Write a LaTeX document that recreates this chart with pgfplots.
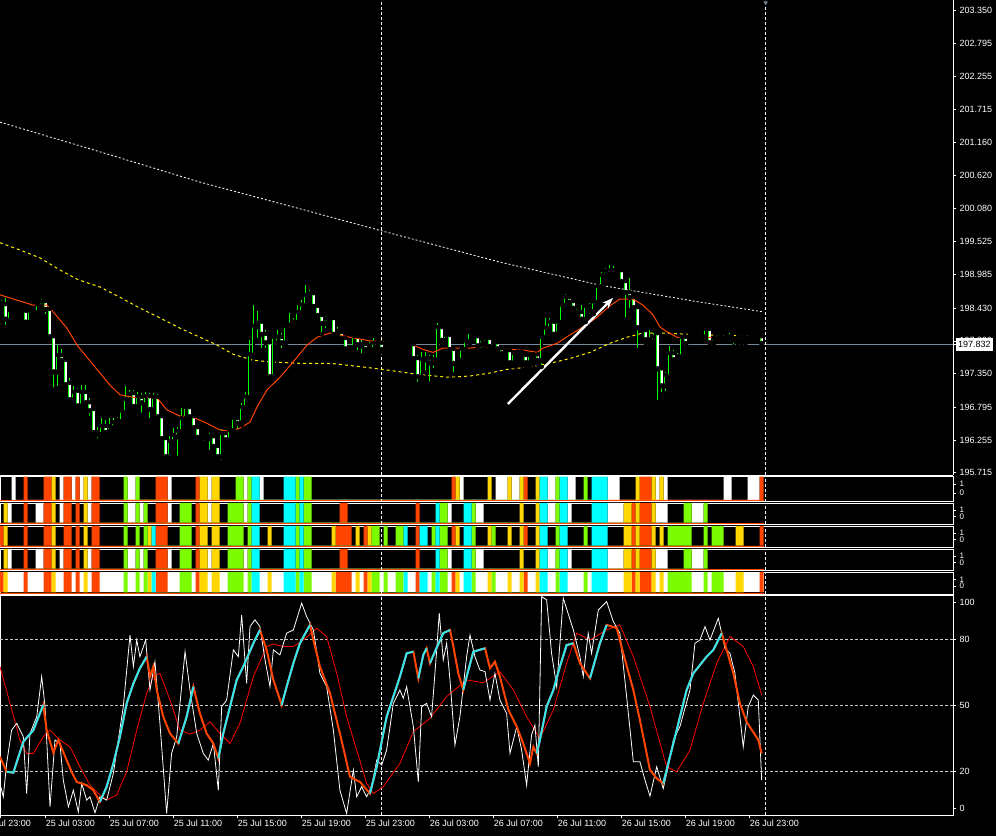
\documentclass[border=0pt]{standalone}
\usepackage{fontspec}
\setmainfont{Liberation Sans}
\usepackage{pgfplots}
\usepackage{pgfplotstable}
\pgfplotsset{compat=1.18}
\usetikzlibrary{arrows.meta}

\definecolor{mtorange}{RGB}{255,69,0}
\definecolor{mtgold}{RGB}{255,215,0}
\definecolor{mtlawn}{RGB}{124,252,0}
\definecolor{mtaqua}{RGB}{0,255,255}
\definecolor{mtlime}{RGB}{0,255,0}
\definecolor{mtsig}{RGB}{50,230,240}
\definecolor{bidgray}{RGB}{119,136,153}
\definecolor{levelgray}{RGB}{200,200,200}

% M15 candles, t = hours since 25 Jul 00:00
\pgfplotstableread{
t O H L C
0.25 198.50 198.57 198.45 198.48
0.50 198.48 198.60 198.12 198.24
0.75 198.22 198.42 198.17 198.38
1.00 198.38 198.45 198.35 198.40
1.25 198.40 198.47 198.37 198.42
1.50 198.40 198.43 198.30 198.35
1.75 198.37 198.40 198.15 198.19
2.00 198.19 198.40 198.15 198.37
2.25 198.37 198.42 198.30 198.35
2.50 198.35 198.52 198.30 198.47
2.75 198.45 198.58 198.38 198.52
3.00 198.53 198.58 198.30 198.40
3.25 198.40 198.43 197.92 197.95
3.50 197.95 197.99 197.09 197.37
3.75 197.37 197.82 197.11 197.64
4.00 197.64 197.75 197.51 197.56
4.25 197.56 197.57 197.13 197.16
4.50 197.18 197.27 196.85 196.91
4.75 196.91 197.14 196.88 197.03
5.00 197.05 197.11 196.78 196.81
5.25 196.81 197.16 196.80 197.03
5.50 197.03 197.16 196.85 196.86
5.75 196.86 196.95 196.62 196.73
6.00 196.75 196.76 196.35 196.37
6.25 196.37 196.47 196.25 196.34
6.50 196.34 196.62 196.30 196.47
6.75 196.47 196.58 196.34 196.37
7.00 196.39 196.62 196.34 196.47
7.25 196.45 196.62 196.42 196.53
7.50 196.53 196.63 196.52 196.57
7.75 196.55 196.76 196.52 196.72
8.00 196.70 197.14 196.67 196.91
8.25 196.91 197.08 196.86 197.00
8.50 197.01 197.08 196.75 196.80
8.75 196.80 197.05 196.75 196.96
9.00 196.95 197.03 196.67 196.86
9.25 196.83 197.05 196.78 196.96
9.50 196.96 197.03 196.58 196.75
9.75 196.75 197.03 196.72 196.95
10.00 196.95 197.01 196.58 196.63
10.25 196.63 196.67 196.20 196.27
10.50 196.27 196.30 195.96 195.97
10.75 195.97 196.32 195.94 196.22
11.00 196.22 196.45 196.19 196.32
11.25 196.30 196.47 195.96 196.39
11.50 196.39 196.78 196.35 196.60
11.75 196.60 196.83 196.57 196.78
12.00 196.78 196.81 196.58 196.63
12.25 196.63 196.67 196.42 196.45
12.50 196.45 196.48 196.25 196.29
12.75 196.29 196.34 196.20 196.24
13.00 196.20 196.32 196.14 196.27
13.25 196.27 196.37 196.06 196.30
13.50 196.30 196.35 196.11 196.14
13.75 196.14 196.17 195.92 195.97
14.00 195.97 196.43 195.89 196.35
14.25 196.35 196.39 196.22 196.25
14.50 196.25 196.45 196.22 196.40
14.75 196.40 196.62 196.37 196.60
15.00 196.60 196.63 196.39 196.52
15.25 196.53 196.86 196.50 196.78
15.50 196.78 197.05 196.75 196.95
15.75 196.95 197.90 196.91 197.65
16.00 197.65 198.48 197.62 198.12
16.25 198.12 198.38 197.90 198.17
16.50 198.19 198.24 197.74 197.99
16.75 197.99 198.07 197.74 197.85
17.00 197.85 197.90 197.27 197.29
17.25 197.29 197.99 197.27 197.94
17.50 197.85 198.07 197.82 197.94
17.75 197.94 198.02 197.74 197.85
18.00 197.85 198.15 197.82 198.12
18.25 198.12 198.35 198.07 198.14
18.50 198.14 198.27 198.10 198.19
18.75 198.19 198.48 198.14 198.35
19.00 198.35 198.57 198.30 198.47
19.25 198.47 198.81 198.43 198.63
19.50 198.63 198.73 198.57 198.66
19.75 198.66 198.70 198.43 198.45
20.00 198.45 198.48 198.27 198.30
20.25 198.30 198.35 198.00 198.17
20.50 198.17 198.30 198.07 198.24
20.75 198.24 198.30 198.17 198.25
21.00 198.25 198.30 197.94 197.99
21.25 197.99 198.12 197.95 198.04
21.50 198.02 198.07 197.87 197.92
21.75 197.92 197.95 197.74 197.75
22.00 197.75 197.84 197.74 197.77
22.25 197.77 197.99 197.74 197.95
22.50 197.95 198.00 197.70 197.82
22.75 197.82 197.90 197.65 197.80
23.00 197.82 197.87 197.67 197.74
23.25 197.75 197.87 197.74 197.80
23.50 197.74 197.94 197.69 197.84
23.75 197.84 197.90 197.79 197.85
24.00 197.84 197.90 197.70 197.74
24.25 197.82 197.90 197.80 197.85
24.50 197.85 197.89 197.80 197.82
24.75 197.84 197.90 197.80 197.85
25.00 197.85 197.89 197.79 197.80
25.25 197.85 197.89 197.84 197.84
25.50 197.85 197.90 197.80 197.84
25.75 197.84 197.89 197.77 197.80
26.00 197.82 197.84 197.57 197.59
26.25 197.59 197.65 197.18 197.29
26.50 197.29 197.70 197.24 197.57
26.75 197.57 197.70 197.37 197.59
27.00 197.59 197.65 197.19 197.52
27.25 197.52 197.65 197.41 197.57
27.50 197.57 198.19 197.54 198.10
27.75 198.10 198.15 197.85 197.89
28.00 197.89 198.00 197.84 197.97
28.25 197.97 198.02 197.70 197.74
28.50 197.74 197.77 197.34 197.51
28.75 197.51 197.60 197.46 197.56
29.00 197.56 197.77 197.52 197.74
29.25 197.74 197.92 197.70 197.87
29.50 197.87 198.04 197.82 198.02
29.75 198.00 198.02 197.92 197.95
30.00 197.95 197.97 197.77 197.80
30.25 197.82 197.95 197.74 197.90
30.50 197.85 197.97 197.82 197.92
30.75 197.92 197.97 197.75 197.79
31.00 197.80 197.90 197.75 197.85
31.25 197.85 197.89 197.72 197.75
31.50 197.75 197.80 197.62 197.67
31.75 197.69 197.77 197.64 197.72
32.00 197.72 197.77 197.51 197.52
32.25 197.52 197.70 197.47 197.67
32.50 197.67 197.75 197.62 197.70
32.75 197.70 197.74 197.60 197.64
33.00 197.64 197.67 197.46 197.52
33.25 197.52 197.67 197.47 197.64
33.50 197.64 197.70 197.60 197.65
33.75 197.65 197.70 197.51 197.56
34.00 197.56 197.95 197.46 197.94
34.25 197.94 198.27 197.89 198.09
34.50 198.09 198.27 198.07 198.19
34.75 198.19 198.24 197.92 197.99
35.00 198.00 198.24 197.97 198.19
35.25 198.19 198.52 198.15 198.47
35.50 198.47 198.66 198.43 198.60
35.75 198.60 198.65 198.48 198.52
36.00 198.53 198.57 198.38 198.42
36.25 198.42 198.45 198.32 198.35
36.50 198.35 198.48 198.20 198.24
36.75 198.24 198.48 198.20 198.45
37.00 198.38 198.52 198.30 198.45
37.25 198.37 198.55 198.33 198.52
37.50 198.52 198.81 198.48 198.78
37.75 198.78 199.03 198.75 198.96
38.00 198.96 199.09 198.93 199.03
38.25 199.03 199.14 198.96 199.04
38.50 199.04 199.13 198.98 199.01
38.75 199.01 199.09 198.96 199.04
39.00 199.04 199.06 198.83 198.86
39.25 198.86 198.91 198.24 198.68
39.50 198.68 198.93 198.40 198.60
39.75 198.60 198.63 198.38 198.43
40.00 198.43 198.47 197.74 198.10
40.25 198.10 198.15 197.97 198.05
40.50 198.05 198.10 197.85 197.90
40.75 197.90 198.07 197.82 197.87
41.00 197.87 198.02 197.84 197.94
41.25 198.00 198.02 196.88 197.42
41.50 197.42 197.46 197.01 197.14
41.75 197.14 197.37 197.03 197.31
42.00 197.29 197.80 197.24 197.67
42.25 197.67 197.74 197.51 197.57
42.50 197.57 197.69 197.52 197.62
42.75 197.62 197.97 197.59 197.94
43.00 197.94 197.97 197.82 197.84
43.25 197.92 198.00 197.87 197.97
43.50 197.97 198.02 197.90 197.95
43.75 197.95 198.04 197.90 198.00
44.00 198.00 198.02 197.92 197.97
44.25 197.95 198.09 197.90 198.07
44.50 198.07 198.10 197.80 197.85
44.75 197.85 197.95 197.82 197.92
45.00 197.92 198.00 197.89 197.99
45.25 197.99 198.00 197.90 197.94
45.50 197.94 197.99 197.89 197.95
45.75 197.95 198.02 197.90 197.92
46.00 197.92 197.97 197.80 197.89
46.25 197.89 197.99 197.85 197.94
46.50 197.94 197.95 197.85 197.89
46.75 197.89 197.97 197.85 197.94
47.00 197.94 197.99 197.90 197.95
47.25 197.95 198.00 197.90 197.94
47.50 197.94 198.00 197.92 197.97
47.75 197.95 197.97 197.82 197.84
}\candles

% moving averages on the price chart
\pgfplotstableread{
t p
0.14 198.65
2.21 198.48
3.08 198.48
3.46 198.37
4.33 198.10
4.96 197.82
5.58 197.62
6.39 197.36
7.02 197.16
7.64 197.00
8.46 196.96
9.96 196.95
10.58 196.75
11.39 196.65
12.21 196.63
13.08 196.53
13.89 196.42
14.52 196.40
15.14 196.45
15.77 196.55
16.21 196.80
16.83 197.08
17.64 197.29
18.46 197.54
19.33 197.82
19.96 197.95
20.77 198.02
22.02 197.95
23.27 197.89
24.96 197.87
25.96 197.82
26.58 197.75
27.21 197.70
27.83 197.77
29.52 197.77
30.33 197.80
32.02 197.75
32.83 197.74
33.71 197.70
34.08 197.77
34.96 197.85
35.77 197.99
36.58 198.12
37.46 198.28
38.27 198.47
38.89 198.58
39.71 198.58
40.33 198.48
40.96 198.32
41.39 198.12
41.83 198.04
42.46 197.95
43.08 197.94
44.33 197.95
45.96 197.94
47.77 197.94
}\ema

\pgfplotstableread{
t p
0.14 199.51
1.39 199.39
2.64 199.26
3.89 199.06
5.02 198.90
6.39 198.78
7.64 198.61
8.89 198.43
10.14 198.27
11.39 198.10
12.64 197.95
13.71 197.82
14.71 197.67
15.96 197.57
17.21 197.54
18.89 197.52
20.77 197.52
22.83 197.46
24.33 197.41
26.21 197.34
28.08 197.29
29.52 197.31
30.77 197.36
31.83 197.42
33.27 197.46
34.52 197.52
35.77 197.60
37.02 197.70
38.27 197.85
39.33 197.95
40.33 198.02
41.39 198.02
43.89 197.99
47.77 197.97
}\mayellow

\pgfplotstableread{
t p
0.14 201.50
6.39 201.01
12.64 200.51
18.89 200.07
24.08 199.70
31.39 199.19
37.64 198.81
43.89 198.53
47.83 198.37
}\mawhite

% colour strips: interval starts (1) and ends (0)
\pgfplotstableread[row sep=\\]{x y\\0.875 1\\1.125 0\\3.875 1\\4.125 0\\4.625 1\\4.875 0\\5.125 1\\5.375 0\\5.625 1\\5.875 0\\8.125 1\\8.625 0\\10.625 1\\10.875 0\\13.125 1\\13.375 0\\15.375 1\\15.625 0\\16.375 1\\16.625 0\\28.875 1\\29.125 0\\31.125 1\\31.875 0\\32.125 1\\32.625 0\\34.375 1\\34.875 0\\35.625 1\\36.125 0\\38.125 1\\38.875 0\\41.125 1\\41.375 0\\41.625 1\\41.875 0\\45.375 1\\45.875 0\\46.875 1\\47.625 0\\}\sOneW
\pgfplotstableread[row sep=\\]{x y\\1.625 1\\1.875 0\\2.875 1\\3.375 0\\4.125 1\\4.625 0\\4.875 1\\5.125 0\\5.875 1\\6.375 0\\9.875 1\\10.625 0\\12.375 1\\12.625 0\\28.375 1\\28.625 0\\32.875 1\\33.125 0\\40.125 1\\40.875 0\\47.625 1\\47.875 0\\}\sOneO
\pgfplotstableread[row sep=\\]{x y\\3.375 1\\3.625 0\\5.375 1\\5.625 0\\12.625 1\\13.125 0\\13.375 1\\13.875 0\\28.625 1\\28.875 0\\30.625 1\\30.875 0\\31.875 1\\32.125 0\\32.625 1\\32.875 0\\33.625 1\\33.875 0\\39.875 1\\40.125 0\\40.875 1\\41.125 0\\41.375 1\\41.625 0\\}\sOneY
\pgfplotstableread[row sep=\\]{x y\\7.875 1\\8.125 0\\8.625 1\\8.875 0\\14.875 1\\15.375 0\\15.625 1\\15.875 0\\18.625 1\\18.875 0\\19.125 1\\19.625 0\\34.875 1\\35.125 0\\36.625 1\\36.875 0\\}\sOneG
\pgfplotstableread[row sep=\\]{x y\\15.875 1\\16.375 0\\17.875 1\\18.625 0\\18.875 1\\19.125 0\\33.875 1\\34.375 0\\35.125 1\\35.625 0\\37.125 1\\38.125 0\\}\sOneC

\pgfplotstableread[row sep=\\]{x y\\0.625 1\\0.875 0\\2.375 1\\2.875 0\\3.875 1\\4.125 0\\5.625 1\\5.875 0\\8.125 1\\8.625 0\\8.875 1\\9.125 0\\10.625 1\\10.875 0\\13.125 1\\13.375 0\\15.375 1\\15.625 0\\28.125 1\\28.375 0\\29.875 1\\30.375 0\\34.375 1\\34.875 0\\35.625 1\\35.875 0\\38.125 1\\39.125 0\\41.125 1\\41.875 0\\43.375 1\\44.125 0\\}\sTwoW
\pgfplotstableread[row sep=\\]{x y\\1.625 1\\1.875 0\\2.875 1\\3.375 0\\4.125 1\\4.625 0\\4.875 1\\5.125 0\\5.875 1\\6.375 0\\9.875 1\\10.625 0\\12.375 1\\12.625 0\\21.375 1\\21.875 0\\26.125 1\\26.375 0\\39.625 1\\39.875 0\\40.125 1\\40.875 0\\}\sTwoO
\pgfplotstableread[row sep=\\]{x y\\0.375 1\\0.625 0\\3.375 1\\3.625 0\\5.375 1\\5.625 0\\12.625 1\\13.125 0\\13.375 1\\13.875 0\\32.625 1\\32.875 0\\33.625 1\\33.875 0\\39.125 1\\39.625 0\\39.875 1\\40.125 0\\40.875 1\\41.125 0\\}\sTwoY
\pgfplotstableread[row sep=\\]{x y\\7.875 1\\8.125 0\\8.625 1\\8.875 0\\9.125 1\\9.375 0\\11.375 1\\12.125 0\\14.375 1\\15.375 0\\15.625 1\\15.875 0\\18.625 1\\18.875 0\\19.125 1\\19.625 0\\27.625 1\\28.125 0\\29.625 1\\29.875 0\\34.875 1\\35.125 0\\42.875 1\\43.375 0\\44.125 1\\44.375 0\\}\sTwoG
\pgfplotstableread[row sep=\\]{x y\\15.875 1\\16.375 0\\17.875 1\\18.625 0\\18.875 1\\19.125 0\\27.375 1\\27.625 0\\29.125 1\\29.625 0\\33.875 1\\34.375 0\\35.125 1\\35.625 0\\37.125 1\\38.125 0\\}\sTwoC

\pgfplotstableread[row sep=\\]{x y\\0.125 1\\0.375 0\\1.625 1\\1.875 0\\2.875 1\\3.375 0\\4.125 1\\4.625 0\\4.875 1\\5.125 0\\5.875 1\\6.375 0\\9.875 1\\10.625 0\\12.375 1\\12.625 0\\21.125 1\\22.125 0\\22.875 1\\23.125 0\\26.125 1\\26.375 0\\28.375 1\\28.625 0\\32.875 1\\33.125 0\\39.625 1\\39.875 0\\40.125 1\\40.875 0\\47.625 1\\47.875 0\\}\sThrO
\pgfplotstableread[row sep=\\]{x y\\0.375 1\\0.625 0\\3.375 1\\3.625 0\\5.375 1\\5.625 0\\9.375 1\\9.625 0\\12.625 1\\13.125 0\\13.375 1\\13.875 0\\16.875 1\\17.125 0\\20.875 1\\21.125 0\\22.375 1\\22.625 0\\23.125 1\\23.375 0\\28.625 1\\28.875 0\\30.625 1\\30.875 0\\31.875 1\\32.125 0\\32.625 1\\32.875 0\\33.625 1\\33.875 0\\39.125 1\\39.625 0\\39.875 1\\40.125 0\\40.875 1\\41.125 0\\41.375 1\\41.625 0\\46.125 1\\46.625 0\\}\sThrY
\pgfplotstableread[row sep=\\]{x y\\7.875 1\\8.125 0\\8.625 1\\8.875 0\\9.125 1\\9.375 0\\11.375 1\\12.125 0\\14.375 1\\15.375 0\\15.625 1\\15.875 0\\18.625 1\\18.875 0\\19.125 1\\19.625 0\\23.375 1\\23.875 0\\24.125 1\\24.375 0\\24.875 1\\25.375 0\\27.125 1\\27.375 0\\27.625 1\\28.125 0\\29.625 1\\29.875 0\\30.875 1\\31.125 0\\34.875 1\\35.125 0\\36.625 1\\36.875 0\\41.875 1\\43.375 0\\44.125 1\\44.375 0\\44.625 1\\45.375 0\\}\sThrG
\pgfplotstableread[row sep=\\]{x y\\9.625 1\\9.875 0\\15.875 1\\16.375 0\\17.875 1\\18.625 0\\18.875 1\\19.125 0\\25.375 1\\25.625 0\\26.375 1\\26.875 0\\27.375 1\\27.625 0\\29.125 1\\29.625 0\\33.875 1\\34.375 0\\35.125 1\\35.625 0\\37.125 1\\38.125 0\\}\sThrC
\pgfplotstableread[row sep=\\]{x y\\0.125 1\\47.875 0\\}\sFiveW

% stochastic oscillator
\pgfplotstableread{
t v
0.14 14.4
0.35 8.3
0.56 23.5
0.87 38.7
1.19 41.8
1.60 35.7
1.81 9.8
2.02 37.2
2.44 44.8
2.75 63.1
2.96 49.4
3.27 3.7
3.58 34.2
3.89 32.6
4.10 15.9
4.42 3.7
4.73 11.3
5.04 1.4
5.25 14.4
5.56 6.8
5.77 8.3
6.08 1.0
6.39 8.3
6.81 6.8
7.23 19.0
7.85 49.4
8.27 82.1
8.48 67.7
8.69 79.8
8.89 72.2
9.25 79.8
9.52 57.0
9.83 69.9
10.14 41.8
10.56 0.7
10.87 28.1
11.19 35.7
11.71 74.5
12.02 57.0
12.44 37.2
12.85 28.1
13.16 25.0
13.48 32.6
13.79 11.3
14.00 49.4
14.31 52.4
14.73 75.3
15.04 72.2
15.25 91.2
15.56 60.0
15.77 85.9
16.08 89.0
16.39 85.9
16.71 70.7
17.02 58.5
17.23 75.3
17.64 73.0
18.06 82.9
18.48 84.4
19.00 96.6
19.31 90.5
19.73 84.4
20.14 64.6
20.56 58.5
20.98 38.7
21.39 11.3
21.81 0.7
22.23 20.5
22.44 8.3
22.75 12.9
23.06 8.3
23.37 12.9
23.69 25.0
24.00 22.8
24.31 29.6
24.73 50.9
25.14 57.0
25.35 53.2
25.56 58.5
25.98 40.3
26.29 15.1
26.50 49.4
26.81 50.9
27.12 44.8
27.44 75.3
27.60 92.0
27.85 70.7
28.06 78.3
28.27 61.6
28.58 31.9
28.89 44.8
29.31 72.2
29.52 82.1
29.83 72.2
30.14 66.1
30.46 65.4
30.77 52.4
31.08 64.6
31.39 52.4
31.81 46.3
32.02 28.1
32.44 40.3
32.75 29.6
33.06 13.6
33.37 36.5
33.58 41.0
33.79 22.0
34.00 99.6
34.31 98.1
34.62 73.7
34.94 58.5
35.35 98.9
35.98 84.4
36.39 72.2
36.60 63.1
36.91 82.9
37.12 73.7
37.54 93.5
38.06 97.3
38.48 88.2
38.89 82.9
39.31 54.0
39.73 24.3
40.14 24.3
40.46 15.9
40.77 8.6
41.19 22.0
41.60 12.1
41.91 22.0
42.23 34.2
42.64 40.3
43.27 57.0
43.58 78.3
43.89 79.8
44.21 85.9
44.52 79.8
45.04 89.7
45.46 76.0
45.77 73.7
46.08 64.6
46.39 44.8
46.60 31.1
46.91 49.4
47.23 54.7
47.54 52.4
47.75 15.9
}\stochmain

\pgfplotstableread{
t v
0.14 26.6
0.56 19.7
0.98 19.3
1.60 33.4
2.23 38.7
2.85 50.2
3.06 38.7
3.48 28.4
3.79 34.2
4.31 25.0
4.62 19.7
4.94 15.1
5.56 13.6
5.98 11.3
6.39 6.0
6.81 12.9
7.23 23.5
7.64 35.7
8.06 50.9
8.48 60.0
8.89 66.9
9.31 72.2
9.52 63.1
9.73 67.7
9.94 57.0
10.35 44.8
10.77 37.2
11.29 32.6
11.81 44.8
12.23 58.5
12.64 46.3
13.06 37.2
13.48 32.6
13.79 25.8
14.10 37.2
14.52 49.4
14.94 61.6
15.35 67.7
15.98 78.3
16.39 84.4
16.81 75.3
17.23 61.6
17.75 50.2
18.06 58.5
18.48 69.2
18.89 78.3
19.52 86.7
19.73 79.8
20.14 67.7
20.77 55.5
21.39 37.2
22.02 17.4
22.64 15.1
23.27 9.8
23.69 22.0
24.31 44.8
25.14 63.1
25.56 73.7
25.98 74.5
26.29 62.3
26.60 73.0
26.81 76.0
27.02 69.2
27.33 74.5
27.85 82.9
28.27 84.4
28.48 76.8
28.79 64.6
29.10 57.0
29.31 63.1
29.73 74.5
30.46 76.0
30.77 66.9
31.08 69.9
31.39 63.1
31.92 47.9
32.44 40.3
32.85 32.6
33.27 23.5
33.48 31.1
33.69 28.1
33.89 34.2
34.31 49.4
34.73 57.0
35.14 67.7
35.56 77.5
35.98 78.3
36.39 69.2
36.81 64.6
37.02 62.3
37.23 67.7
37.64 78.3
38.06 86.7
38.69 85.2
39.10 73.7
39.73 57.0
40.14 43.3
40.77 20.5
41.19 16.7
41.60 14.4
42.02 26.6
42.44 38.7
43.06 57.0
43.48 64.6
44.31 72.2
44.73 75.3
45.25 82.9
45.56 75.3
45.98 64.6
46.39 50.9
46.81 42.5
47.54 34.2
47.75 28.1
}\stochsig

\pgfplotstableread{
t v
0.56 19.7
0.98 19.3
1.60 33.4
2.23 38.7
2.85 50.2
nan nan
6.39 6.0
6.81 12.9
7.23 23.5
7.64 35.7
8.06 50.9
8.48 60.0
8.89 66.9
9.31 72.2
nan nan
11.29 32.6
11.81 44.8
12.23 58.5
nan nan
13.79 25.8
14.10 37.2
14.52 49.4
14.94 61.6
15.35 67.7
15.98 78.3
16.39 84.4
nan nan
17.75 50.2
18.06 58.5
18.48 69.2
18.89 78.3
19.52 86.7
nan nan
23.27 9.8
23.69 22.0
24.31 44.8
25.14 63.1
25.56 73.7
25.98 74.5
nan nan
26.29 62.3
26.60 73.0
26.81 76.0
nan nan
27.02 69.2
27.33 74.5
27.85 82.9
28.27 84.4
nan nan
29.10 57.0
29.31 63.1
29.73 74.5
30.46 76.0
nan nan
33.69 28.1
33.89 34.2
34.31 49.4
34.73 57.0
35.14 67.7
35.56 77.5
35.98 78.3
nan nan
37.02 62.3
37.23 67.7
37.64 78.3
38.06 86.7
nan nan
41.60 14.4
42.02 26.6
42.44 38.7
43.06 57.0
43.48 64.6
44.31 72.2
44.73 75.3
45.25 82.9
}\stochup

\pgfplotstableread{
t v
0.14 67.7
0.77 50.9
1.39 34.2
1.81 28.1
2.23 28.1
2.85 35.7
3.27 38.7
3.89 34.2
4.52 31.1
5.14 22.0
5.77 13.6
6.39 9.1
6.81 6.8
7.44 9.1
8.06 19.7
8.69 38.7
9.31 55.5
9.73 63.1
10.14 64.6
10.77 52.4
11.39 38.7
12.02 36.9
12.64 38.7
13.27 42.5
13.89 37.2
14.52 32.6
15.14 41.8
15.98 63.1
16.81 76.8
17.23 78.0
17.85 76.8
18.48 76.8
19.10 79.8
19.94 85.1
20.56 81.4
21.19 64.6
21.81 44.8
22.44 29.6
23.06 14.4
23.48 9.8
24.10 12.9
25.14 23.5
25.98 38.0
27.02 44.1
28.06 54.0
29.31 61.6
30.35 60.3
31.39 65.4
32.23 57.0
33.06 44.8
33.89 34.9
34.73 47.9
35.56 69.2
36.19 82.9
37.02 79.8
38.06 84.4
38.89 86.7
39.73 72.2
40.77 49.4
41.81 22.0
42.44 19.7
43.27 29.6
44.10 50.9
44.94 69.2
45.77 81.4
46.60 76.8
47.23 67.7
47.75 54.7
}\stochslow

\pgfplotsset{
  panel/.style={
    scale only axis, anchor=south west, width=953pt,
    xmin=0.144, xmax=59.71,
    axis line style={white, line width=0.8pt},
    tick style={white, line width=0.6pt},
    major tick length=3pt, tick align=outside,
    tick label style={text=white},
    xtick=\empty,
    ytick pos=right, yticklabel pos=right,
    unbounded coords=jump,
  },
  strip/.style={panel, ymin=-0.08, ymax=1,
    ytick={0.32,0.64}, yticklabels={0,1},
    yticklabel style={font=\fontsize{8}{8}\selectfont}},
  seg/.style={ybar interval, draw=none, fill=#1, forget plot},
  sep/.style={white, line width=0.8pt, dash pattern=on 3pt off 2pt},
  candle/.style 2 args={only marks, mark=none, error bars/.cd, y dir=plus, y explicit,
    error mark=none, error bar style={draw=#1, line width=#2}},
}

\begin{document}
\begin{tikzpicture}
\fill[black] (0,0) rectangle (996pt,836pt);

% ---------------- price chart
\begin{axis}[panel, at={(0pt,361pt)}, height=475pt,
  ymin=195.677, ymax=203.515,
  axis x line*=bottom, axis y line*=right,
  ytick={195.715,196.255,196.795,197.350,197.890,198.430,198.985,199.525,200.080,200.620,201.160,201.715,202.255,202.795,203.350},
  yticklabels={195.715,196.255,196.795,197.350,197.890,198.430,198.985,199.525,200.080,200.620,201.160,201.715,202.255,202.795,203.350},
  yticklabel style={font=\fontsize{9}{9}\selectfont},
  extra y ticks={197.832}, extra y tick labels={197.832},
  extra y tick style={yticklabel style={fill=white, text=black, inner xsep=2pt}},
]
\addplot[bidgray, line width=1pt] coordinates {(0.144,197.832) (59.71,197.832)};
\addplot[sep] coordinates {(24,195.677) (24,203.515)};
\addplot[sep] coordinates {(48,195.677) (48,203.515)};
\addplot[only marks, mark=triangle*, mark size=3.2pt,
  mark options={rotate=180, fill=bidgray, draw=none}] coordinates {(48,203.47)};
\addplot[white, line width=0.8pt, dash pattern=on 2pt off 2pt] table[x=t, y=p] {\mawhite};
\addplot[yellow, line width=1pt, dash pattern=on 3pt off 3pt] table[x=t, y=p] {\mayellow};
% wicks
\addplot[candle={mtlime}{1pt}]
  table[x=t, y=L, y error plus expr=\thisrow{H}-\thisrow{L}] {\candles};
% bodies
\addplot[candle={mtlime}{3.6pt}]
  table[x=t, y expr={min(\thisrow{O},\thisrow{C})},
        y error plus expr={max(abs(\thisrow{O}-\thisrow{C}),0.012)}] {\candles};
% bear bodies: white inside
\addplot[candle={white}{1.7pt}]
  table[x=t, y expr={\thisrow{C}+0.0165},
        y error plus expr={max(\thisrow{O}-\thisrow{C}-0.033,0)}] {\candles};
% bull bodies: black inside
\addplot[candle={black}{1.7pt}]
  table[x=t, y expr={\thisrow{O}+0.0165},
        y error plus expr={max(\thisrow{C}-\thisrow{O}-0.033,0)}] {\candles};
\addplot[mtorange, line width=1pt] table[x=t, y=p] {\ema};
\addplot[white, line width=2.4pt, -{Stealth[length=11pt, width=8pt]}]
  coordinates {(31.89,196.85) (38.46,198.60)};
\end{axis}

% ---------------- strip 1
\begin{axis}[strip, at={(0pt,334.3pt)}, height=25pt, ytick={0.29,0.69}]
\addplot[seg=white] table {\sOneW};
\addplot[seg=mtorange] table {\sOneO};
\addplot[seg=mtgold] table {\sOneY};
\addplot[seg=mtlawn] table {\sOneG};
\addplot[seg=mtaqua] table {\sOneC};
\addplot[mtorange, line width=1.2pt] coordinates {(0.125,-0.04) (47.875,-0.04)};
\addplot[sep] coordinates {(24,-0.08) (24,1)};
\addplot[sep] coordinates {(48,-0.08) (48,1)};
\end{axis}

% ---------------- strip 2
\begin{axis}[strip, at={(0pt,311.7pt)}, height=21.3pt]
\addplot[seg=white] table {\sTwoW};
\addplot[seg=mtorange] table {\sTwoO};
\addplot[seg=mtgold] table {\sTwoY};
\addplot[seg=mtlawn] table {\sTwoG};
\addplot[seg=mtaqua] table {\sTwoC};
\addplot[mtorange, line width=1.2pt] coordinates {(0.125,-0.04) (47.875,-0.04)};
\addplot[sep] coordinates {(24,-0.08) (24,1)};
\addplot[sep] coordinates {(48,-0.08) (48,1)};
\end{axis}

% ---------------- strip 3
\begin{axis}[strip, at={(0pt,288.7pt)}, height=21.3pt]
\addplot[seg=mtorange] table {\sThrO};
\addplot[seg=mtgold] table {\sThrY};
\addplot[seg=mtlawn] table {\sThrG};
\addplot[seg=mtaqua] table {\sThrC};
\addplot[mtorange, line width=1.2pt] coordinates {(0.125,-0.04) (47.875,-0.04)};
\addplot[sep] coordinates {(24,-0.08) (24,1)};
\addplot[sep] coordinates {(48,-0.08) (48,1)};
\end{axis}

% ---------------- strip 4
\begin{axis}[strip, at={(0pt,265.7pt)}, height=21.3pt]
\addplot[seg=white] table {\sTwoW};
\addplot[seg=mtorange] table {\sTwoO};
\addplot[seg=mtgold] table {\sTwoY};
\addplot[seg=mtlawn] table {\sTwoG};
\addplot[seg=mtaqua] table {\sTwoC};
\addplot[mtorange, line width=1.2pt] coordinates {(0.125,-0.04) (47.875,-0.04)};
\addplot[sep] coordinates {(24,-0.08) (24,1)};
\addplot[sep] coordinates {(48,-0.08) (48,1)};
\end{axis}

% ---------------- strip 5
\begin{axis}[strip, at={(0pt,242pt)}, height=22pt]
\addplot[seg=white] table {\sFiveW};
\addplot[seg=mtorange] table {\sThrO};
\addplot[seg=mtgold] table {\sThrY};
\addplot[seg=mtlawn] table {\sThrG};
\addplot[seg=mtaqua] table {\sThrC};
\addplot[mtorange, line width=1.2pt] coordinates {(0.125,-0.04) (47.875,-0.04)};
\addplot[sep] coordinates {(24,-0.08) (24,1)};
\addplot[sep] coordinates {(48,-0.08) (48,1)};
\end{axis}

% ---------------- stochastic
\begin{axis}[panel, at={(0pt,21pt)}, height=219.3pt,
  ymin=0, ymax=100,
  ytick={3,20,50,80,97}, yticklabels={0,20,50,80,100},
  yticklabel style={font=\fontsize{9}{9}\selectfont},
  xtick={3,7,11,15,19,23,27,31,35,39,43,47},
  xticklabels={25 Jul 03:00,25 Jul 07:00,25 Jul 11:00,25 Jul 15:00,25 Jul 19:00,25 Jul 23:00,26 Jul 03:00,26 Jul 07:00,26 Jul 11:00,26 Jul 15:00,26 Jul 19:00,26 Jul 23:00},
  xtick pos=bottom,
  xticklabel style={anchor=north west, inner xsep=0pt, inner ysep=2pt, font=\fontsize{9}{9}\selectfont},
  extra x ticks={0.144}, extra x tick labels={24 Jul 23:00},
  extra x tick style={xticklabel style={xshift=-18.3pt}},
]
\addplot[levelgray, line width=0.7pt, dash pattern=on 3pt off 2pt] coordinates {(0.144,20) (59.71,20)};
\addplot[levelgray, line width=0.7pt, dash pattern=on 3pt off 2pt] coordinates {(0.144,50) (59.71,50)};
\addplot[levelgray, line width=0.7pt, dash pattern=on 3pt off 2pt] coordinates {(0.144,80) (59.71,80)};
\addplot[sep] coordinates {(24,0) (24,100)};
\addplot[sep] coordinates {(48,0) (48,100)};
\addplot[red, line width=0.8pt] table[x=t, y=v] {\stochslow};
\addplot[white, line width=0.8pt] table[x=t, y=v] {\stochmain};
\addplot[mtorange, line width=2pt] table[x=t, y=v] {\stochsig};
\addplot[mtsig, line width=2pt] table[x=t, y=v] {\stochup};
\end{axis}

\pgfresetboundingbox
\useasboundingbox (0,0) rectangle (996pt,836pt);
\end{tikzpicture}
\end{document}
